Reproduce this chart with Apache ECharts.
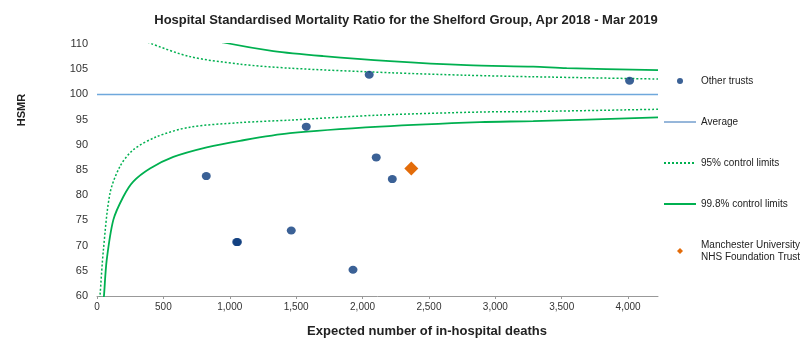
<!DOCTYPE html>
<html>
<head>
<meta charset="utf-8">
<script src="https://cdn.jsdelivr.net/npm/echarts@6/dist/echarts.min.js"></script>
<style>html,body{margin:0;padding:0;background:#fff}#c{width:812px;height:342px}</style>
</head>
<body>
<div id="c"></div>
<script>
var otherTrusts = [[823, 83.8], [1052, 70.7], [1058, 70.7], [1463, 73.0], [1576, 93.6], [1928, 65.2], [2050, 103.9], [2103, 87.5], [2224, 83.2], [4011, 102.7]];
var manchester = [[2367, 85.3]];
var averageX = [0, 4225];
var averageY = [100, 100];
var upper95X = [330, 387, 700, 1077, 1453, 2206, 2782, 3285, 4225];
var upper95Y = [111.2, 110.3, 107.5, 106.0, 105.2, 104.3, 103.8, 103.5, 103.05];
var lower95X = [20, 23, 48, 98, 173, 273, 449, 700, 1077, 1453, 2131, 2884, 3285, 4225];
var lower95Y = [59.5, 60.2, 69.1, 80.4, 85.7, 89.0, 91.6, 93.5, 94.4, 94.9, 95.9, 96.5, 96.6, 97.05];
var upper998X = [880, 951, 1328, 1704, 2206, 2784, 3285, 3537, 4225];
var upper998Y = [111.0, 110.3, 108.6, 107.6, 106.6, 105.8, 105.5, 105.2, 104.8];
var lower998X = [50, 53, 73, 123, 198, 273, 399, 575, 826, 1077, 1453, 2131, 2884, 3285, 4225];
var lower998Y = [59.5, 60.2, 67.1, 75.1, 79.7, 82.7, 85.3, 87.6, 89.5, 90.8, 92.3, 93.6, 94.5, 94.7, 95.45];
var xTicks = { min: 0, max: 4225, interval: 500 };
var yTicks = { min: 60, max: 110, interval: 5 };

function zip(xs, ys) { return xs.map(function (x, i) { return [x, ys[i]]; }); }

var green = '#00b050';
var trustBlue = 'rgb(10,58,124)';
var font = 'Liberation Sans, Arial, sans-serif';
var noSym = { opacity: 0 };
var chart = echarts.init(document.getElementById('c'));
chart.setOption({
  animation: false,
  textStyle: { fontFamily: font },
  title: {
    text: 'Hospital Standardised Mortality Ratio for the Shelford Group, Apr 2018 - Mar 2019',
    left: 'center', top: 9,
    textStyle: { fontSize: 13, fontWeight: 'bold', color: '#222', fontFamily: font }
  },
  grid: { left: 97, right: 154, top: 44, bottom: 46 },
  graphic: [
    { type: 'text', x: 22, y: 110, rotation: Math.PI / 2,
      style: { text: 'HSMR', font: 'bold 11px Liberation Sans, Arial, sans-serif', fill: '#222',
        textAlign: 'center', textVerticalAlign: 'middle' } },
    { type: 'text', x: 427, y: 331,
      style: { text: 'Expected number of in-hospital deaths', font: 'bold 13px Liberation Sans, Arial, sans-serif', fill: '#222',
        textAlign: 'center', textVerticalAlign: 'middle' } }
  ],
  legend: {
    orient: 'vertical', left: 663, top: 75, padding: 0, itemWidth: 32, itemHeight: 6, itemGap: 29,
    textStyle: { fontSize: 10, color: '#222', fontFamily: font, lineHeight: 12 },
    data: [
      { name: 'Other trusts', icon: 'circle', itemStyle: { color: '#3b6196', opacity: 1 } },
      { name: 'Average', itemStyle: noSym, lineStyle: { color: '#2e6eb5', width: 1 } },
      { name: '95% control limits', itemStyle: noSym },
      { name: '99.8% control limits', itemStyle: noSym },
      { name: 'Manchester University\nNHS Foundation Trust', icon: 'path://M5,0L10,5L5,10L0,5Z' }
    ]
  },
  xAxis: {
    type: 'value', min: xTicks.min, max: xTicks.max, interval: xTicks.interval,
    axisLine: { show: true, lineStyle: { color: '#999' } },
    axisTick: { show: true, length: 3, lineStyle: { color: '#999' } },
    axisLabel: { fontSize: 10, color: '#333', showMaxLabel: false, margin: 6,
      formatter: function (v) { return v.toLocaleString('en-US'); } },
    splitLine: { show: false }
  },
  yAxis: {
    type: 'value', min: yTicks.min, max: yTicks.max, interval: yTicks.interval,
    axisLine: { show: false }, axisTick: { show: false },
    axisLabel: { fontSize: 11, color: '#333', margin: 9 },
    splitLine: { show: false }
  },
  series: [
    { name: 'Other trusts', type: 'scatter', data: otherTrusts, symbol: 'circle', symbolSize: [9, 8],
      itemStyle: { color: trustBlue, opacity: 0.8 }, z: 5 },
    { name: 'Average', type: 'line', data: zip(averageX, averageY), symbol: 'none',
      lineStyle: { color: '#6fa8dc', width: 1.5 }, itemStyle: { color: '#6fa8dc' } },
    { name: '95% control limits', type: 'line', data: zip(upper95X, upper95Y), symbol: 'none', smooth: 0.3,
      lineStyle: { color: green, width: 1.5, type: [2, 2] }, itemStyle: { color: green } },
    { name: '95% control limits', type: 'line', data: zip(lower95X, lower95Y), symbol: 'none', smooth: 0.3,
      lineStyle: { color: green, width: 1.5, type: [2, 2] }, itemStyle: { color: green } },
    { name: '99.8% control limits', type: 'line', data: zip(upper998X, upper998Y), symbol: 'none', smooth: 0.3,
      lineStyle: { color: green, width: 1.8 }, itemStyle: { color: green } },
    { name: '99.8% control limits', type: 'line', data: zip(lower998X, lower998Y), symbol: 'none', smooth: 0.3,
      lineStyle: { color: green, width: 1.8 }, itemStyle: { color: green } },
    { name: 'Manchester University\nNHS Foundation Trust', type: 'scatter', data: manchester, symbol: 'diamond',
      symbolSize: 14, itemStyle: { color: '#e36c0a', opacity: 1 }, z: 6 }
  ]
});
</script>
</body>
</html>
